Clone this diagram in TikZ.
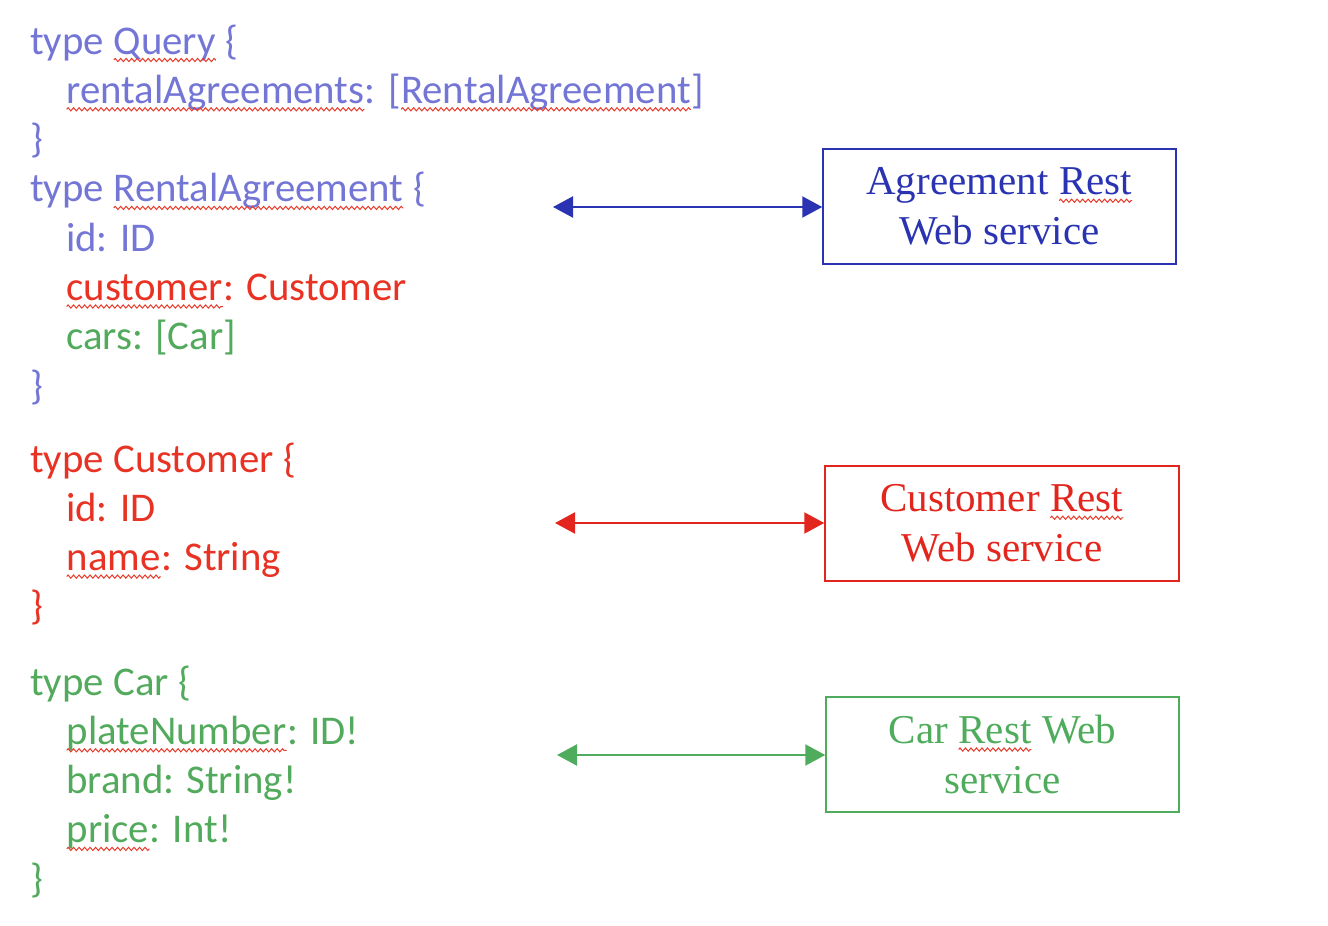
\documentclass[tikz,border=0pt]{standalone}
\usepackage{fontspec}
\usepackage{xcolor}
\usetikzlibrary{arrows.meta,decorations.pathmorphing}
\newfontfamily\codefont{Carlito}
\newfontfamily\boxfont{Liberation Serif}
\definecolor{qblue}{RGB}{116,118,214}
\definecolor{cred}{RGB}{232,50,35}
\definecolor{cgreen}{RGB}{82,170,92}
\definecolor{bblue}{RGB}{42,52,178}
\definecolor{bred}{RGB}{226,38,30}
\definecolor{bgreen}{RGB}{78,172,92}
\definecolor{spellred}{RGB}{232,58,42}
% red zigzag under a word
\newcommand{\spell}[1]{\tikz[baseline=(sp.base)]{\node[inner sep=0pt,outer sep=0pt,minimum width=0pt,minimum height=0pt,draw=none,anchor=center] (sp) {#1};\draw[spellred,line width=1pt,decorate,decoration={zigzag,amplitude=1.6pt,segment length=5.5pt}] ([yshift=-6pt]sp.base west) -- ([yshift=-6pt]sp.base east);}}

\begin{document}
\begin{tikzpicture}[x=1pt,y=-1pt,
	code/.style={anchor=base west,inner sep=0pt,font=\codefont\fontsize{40.8}{49}\selectfont},
	service/.style={draw,line width=1.5pt,minimum width=353pt,minimum height=115pt,align=center,font=\boxfont\fontsize{41}{50}\selectfont},
	link/.style={line width=2.2pt,{Triangle[length=20pt,width=21pt]}-{Triangle[length=20pt,width=21pt]}}]
	\useasboundingbox (0,0) rectangle (1328,926);
	
	% Query and RentalAgreement
	\node[code,text=qblue] (qtype) at (30,54) {type \spell{Query} \{};
	\node[code,text=qblue] (qfield) at (66,103.3) {\spell{rentalAgreements}: [\spell{RentalAgreement}]};
	\node[code,text=qblue] (qend) at (30,152.6) {\}};
	\node[code,text=qblue] (atype) at (30,201.9) {type \spell{RentalAgreement} \{};
	\node[code,text=qblue] (aid) at (66,251.2) {id: ID};
	\node[code,text=cred] (acust) at (66,300.5) {\spell{customer}: Customer};
	\node[code,text=cgreen] (acars) at (66,349.8) {cars: [Car]};
	\node[code,text=qblue] (aend) at (30,399.1) {\}};
	
	% Customer
	\node[code,text=cred] (ctype) at (30,472) {type Customer \{};
	\node[code,text=cred] (cid) at (66,521.3) {id: ID};
	\node[code,text=cred] (cname) at (66,570.6) {\spell{name}: String};
	\node[code,text=cred] (cend) at (30,619.9) {\}};
	
	% Car
	\node[code,text=cgreen] (rtype) at (30,695) {type Car \{};
	\node[code,text=cgreen] (rplate) at (66,744.3) {\spell{plateNumber}: ID!};
	\node[code,text=cgreen] (rbrand) at (66,793.6) {brand: String!};
	\node[code,text=cgreen] (rprice) at (66,842.9) {\spell{price}: Int!};
	\node[code,text=cgreen] (rend) at (30,892.2) {\}};
	
	% services
	\node[service,draw=bblue,text=bblue] (agrws) at (999.5,206.5) {Agreement \spell{Rest}\\Web service};
	\node[service,draw=bred,text=bred,minimum width=354pt] (custws) at (1002,523.5) {Customer \spell{Rest}\\Web service};
	\node[service,draw=bgreen,text=bgreen] (carws) at (1002.5,754.5) {Car \spell{Rest} Web\\service};
	
	\coordinate (agrend) at (553,207);
	\coordinate (custend) at (555,523);
	\coordinate (carend) at (557,755);
	\draw[link,bblue] (agrend) -- (agrend -| agrws.west);
	\draw[link,bred] (custend) -- (custend -| custws.west);
	\draw[link,bgreen] (carend) -- (carend -| carws.west);
\end{tikzpicture}
\end{document}
